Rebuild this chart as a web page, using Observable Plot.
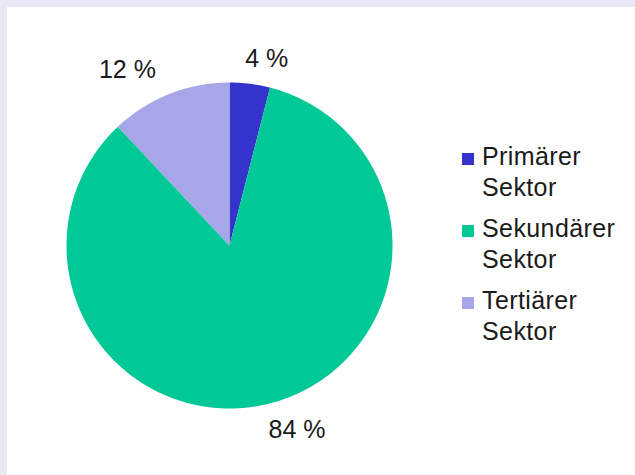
<!DOCTYPE html>
<html>
<head>
<meta charset="utf-8">
<script src="https://cdn.jsdelivr.net/npm/d3@7"></script>
<script src="https://cdn.jsdelivr.net/npm/@observablehq/plot@0.6"></script>
<style>
  html, body { margin: 0; padding: 0; }
  body { width: 635px; height: 475px; background: #e6e8f4; position: relative; overflow: hidden;
         font-family: "Liberation Sans", Arial, sans-serif; color: #1a1a1a; }
  #panel { position: absolute; left: 7px; top: 7px; width: 628px; height: 468px; background: #ffffff; }
  #chart { position: absolute; left: 0; top: 0; }
  #legend { position: absolute; left: 449px; top: 134px; font-size: 25px; line-height: 31px; }
  .item { position: relative; padding-left: 26px; margin-bottom: 10px; letter-spacing: 0.4px; }
  .sw { position: absolute; left: 6px; top: 12px; width: 12px; height: 12px; }
</style>
</head>
<body>
<div id="panel">
  <div id="chart"></div>
  <div id="legend"></div>
</div>
<script>
const sectors = ["Primärer Sektor", "Sekundärer Sektor", "Tertiärer Sektor"];
const legendLines = [["Primärer", "Sektor"], ["Sekundärer", "Sektor"], ["Tertiärer", "Sektor"]];
const shares = [4, 84, 12];
const labels = ["4 %", "84 %", "12 %"];
const colors = ["#3434cc", "#00c896", "#a6a6e8"];

const arcs = d3.pie().sort(null).value(d => d)(shares);

// slice outlines computed from the pie angles
const outline = [];
arcs.forEach((a, i) => {
  outline.push({sector: sectors[i], x: 0, y: 0});
  const n = Math.max(2, Math.ceil((a.endAngle - a.startAngle) / 0.005));
  for (let k = 0; k <= n; k++) {
    const t = a.startAngle + (a.endAngle - a.startAngle) * k / n;
    outline.push({sector: sectors[i], x: Math.sin(t), y: Math.cos(t)});
  }
  outline.push({sector: sectors[i], x: 0, y: 0});
});

const labelData = arcs.map((a, i) => {
  const m = (a.startAngle + a.endAngle) / 2;
  return {text: labels[i], x: 1.16 * Math.sin(m), y: 1.16 * Math.cos(m), side: Math.sin(m) >= 0 ? "start" : "end"};
});

const cx = 222, cy = 238, r = 163;
const chart = Plot.plot({
  width: 628,
  height: 468,
  margin: 0,
  style: {background: "transparent", fontFamily: "Liberation Sans, Arial, sans-serif"},
  x: {domain: [-1, 1], range: [cx - r, cx + r], axis: null},
  y: {domain: [-1, 1], range: [cy + r, cy - r], axis: null},
  color: {domain: sectors, range: colors},
  marks: [
    Plot.line(outline, {x: "x", y: "y", z: "sector", fill: "sector", stroke: null, curve: "linear"}),
    Plot.text(labelData.filter(d => d.side === "start"), {x: "x", y: "y", text: "text", textAnchor: "start", dx: -8, dy: 1, fontSize: 25, fill: "#1a1a1a"}),
    Plot.text(labelData.filter(d => d.side === "end"), {x: "x", y: "y", text: "text", textAnchor: "end", dx: -4, fontSize: 25, fill: "#1a1a1a"})
  ]
});
document.getElementById("chart").appendChild(chart);

const legend = document.getElementById("legend");
sectors.forEach((s, i) => {
  const item = document.createElement("div");
  item.className = "item";
  const sw = document.createElement("span");
  sw.className = "sw";
  sw.style.background = colors[i];
  item.appendChild(sw);
  item.appendChild(document.createTextNode(legendLines[i][0]));
  item.appendChild(document.createElement("br"));
  item.appendChild(document.createTextNode(legendLines[i][1]));
  legend.appendChild(item);
});
</script>
</body>
</html>
